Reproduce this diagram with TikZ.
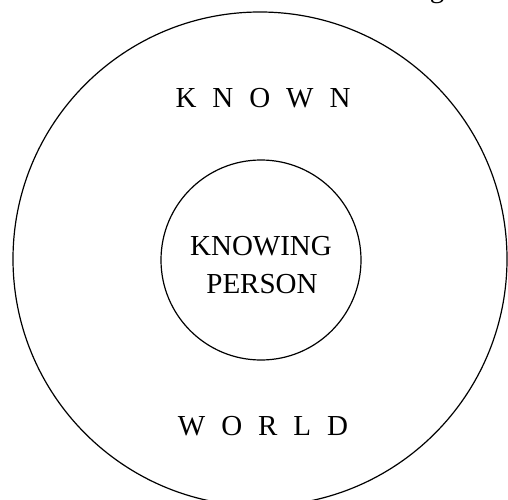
\documentclass[tikz,border=0pt]{standalone}
\usepackage{fontspec}
\setmainfont{Liberation Serif}
\newcommand{\lsp}{\hspace{0.55em}}

\begin{document}
\begin{tikzpicture}[x=1pt, y=1pt, line width=1.2pt,
    label/.style={font=\fontsize{29}{38}\selectfont, inner sep=0pt, anchor=base}]
  \useasboundingbox (0,0) rectangle (508,499);
  \clip (0,0) rectangle (508,499);
  \node[draw, circle, minimum size=494pt, inner sep=0pt] (world) at (260,240) {};
  \node[draw, circle, minimum size=200pt, inner sep=0pt] (person) at (261,239) {};
  \node[label] (knowing) at (261,244) {KNOWING};
  \node[label] (personlbl) at (262,206) {PERSON};

  \node[label] (known) at (263,391) {K\lsp N\lsp O\lsp W\lsp N};
  \node[label] (worldlbl) at (263,64) {W\lsp O\lsp R\lsp L\lsp D};

  % cut-off letter at the top edge
  \node[label] (cut) at (437,501.5) {g};
\end{tikzpicture}
\end{document}
